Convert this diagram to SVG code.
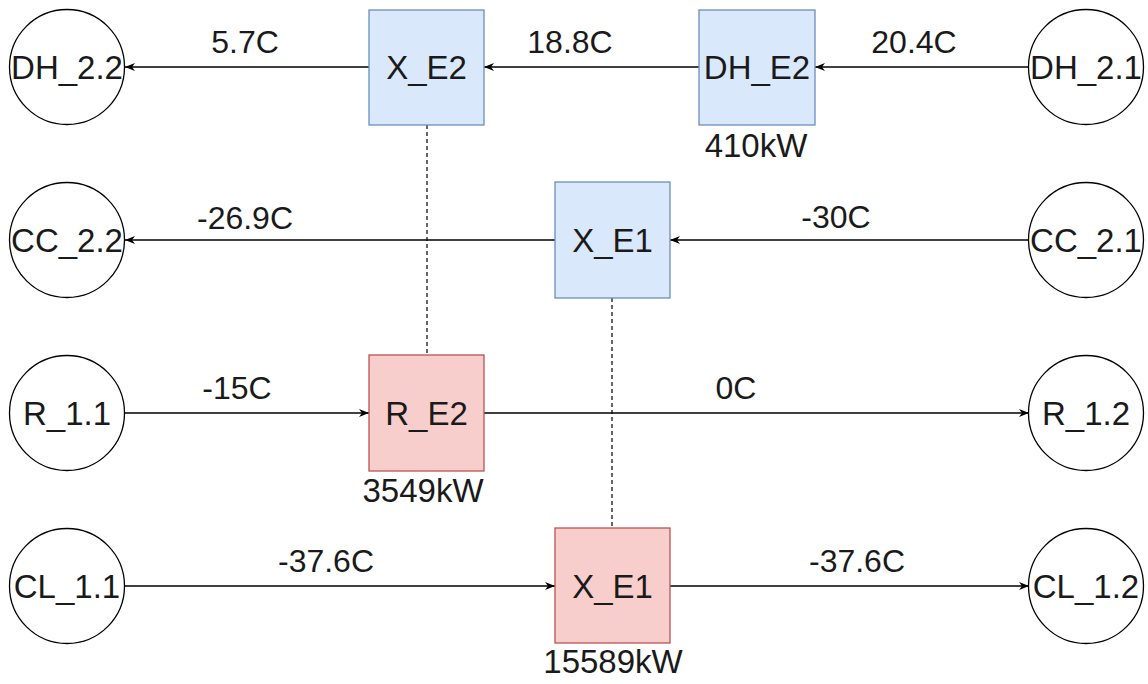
<svg xmlns="http://www.w3.org/2000/svg" width="1148" height="684" viewBox="0 0 1148 684">
<style>
text{font-family:"Liberation Sans",Arial,Helvetica,sans-serif;fill:#1a1a1a;text-anchor:middle}
.n{font-size:33px}
.e{font-size:32px}
.c{fill:#ffffff;stroke:#000000;stroke-width:1.3}
.b{fill:#dae8fc;stroke:#6c8ebf;stroke-width:1.3}
.r{fill:#f8cecc;stroke:#b85450;stroke-width:1.3}
.l{fill:none;stroke:#000000;stroke-width:1.5}
.d{fill:none;stroke:#000000;stroke-width:1.2;stroke-dasharray:4 3}
</style>
<defs>
<marker id="arr" viewBox="0 0 10 8" markerWidth="10" markerHeight="8" refX="10" refY="4" orient="auto" markerUnits="userSpaceOnUse">
<path d="M0,0 L10,4 L0,8 L3,4 z" fill="#000000"/>
</marker>
</defs>
<rect width="1148" height="684" fill="#ffffff"/>
<g id="connectors">
<line class="l" x1="1029" y1="67" x2="815" y2="67" marker-end="url(#arr)"/>
<line class="l" x1="699" y1="67" x2="484" y2="67" marker-end="url(#arr)"/>
<line class="l" x1="369" y1="67" x2="125" y2="67" marker-end="url(#arr)"/>
<line class="l" x1="1029" y1="240" x2="670" y2="240" marker-end="url(#arr)"/>
<line class="l" x1="555" y1="240" x2="125" y2="240" marker-end="url(#arr)"/>
<line class="l" x1="125" y1="413" x2="369" y2="413" marker-end="url(#arr)"/>
<line class="l" x1="484" y1="413" x2="1029" y2="413" marker-end="url(#arr)"/>
<line class="l" x1="125" y1="586" x2="555" y2="586" marker-end="url(#arr)"/>
<line class="l" x1="670" y1="586" x2="1029" y2="586" marker-end="url(#arr)"/>
<line class="d" x1="427" y1="125" x2="427" y2="355"/>
<line class="d" x1="612" y1="298" x2="612" y2="528"/>
<text class="e" x="914" y="53">20.4C</text>
<text class="e" x="570" y="53">18.8C</text>
<text class="e" x="245" y="53">5.7C</text>
<text class="e" x="836" y="228">-30C</text>
<text class="e" x="245" y="229">-26.9C</text>
<text class="e" x="237" y="399">-15C</text>
<text class="e" x="736" y="399">0C</text>
<text class="e" x="326" y="572">-37.6C</text>
<text class="e" x="857" y="572">-37.6C</text>
</g>
<g id="DH_2.2"><circle class="c" cx="67" cy="67" r="57.5"/><text class="n" x="67" y="79">DH_2.2</text></g>
<g id="X_E2"><rect class="b" x="369" y="10" width="115" height="115"/><text class="n" x="426.5" y="79">X_E2</text></g>
<g id="DH_E2"><rect class="b" x="699" y="10" width="116" height="115"/><text class="n" x="757" y="79">DH_E2</text><text class="n" x="756" y="157">410kW</text></g>
<g id="DH_2.1"><circle class="c" cx="1086" cy="67" r="57.5"/><text class="n" x="1086" y="79">DH_2.1</text></g>
<g id="CC_2.2"><circle class="c" cx="67" cy="240" r="57.5"/><text class="n" x="67" y="252">CC_2.2</text></g>
<g id="X_E1_blue"><rect class="b" x="555" y="182" width="115" height="116"/><text class="n" x="612.5" y="252">X_E1</text></g>
<g id="CC_2.1"><circle class="c" cx="1086" cy="240" r="57.5"/><text class="n" x="1086" y="252">CC_2.1</text></g>
<g id="R_1.1"><circle class="c" cx="67" cy="413" r="57.5"/><text class="n" x="67" y="425">R_1.1</text></g>
<g id="R_E2"><rect class="r" x="369" y="355" width="115" height="116"/><text class="n" x="426.5" y="425">R_E2</text><text class="n" x="423" y="502">3549kW</text></g>
<g id="R_1.2"><circle class="c" cx="1086" cy="413" r="57.5"/><text class="n" x="1086" y="425">R_1.2</text></g>
<g id="CL_1.1"><circle class="c" cx="67" cy="586" r="57.5"/><text class="n" x="67" y="598">CL_1.1</text></g>
<g id="X_E1_red"><rect class="r" x="555" y="528" width="115" height="115"/><text class="n" x="612.5" y="598">X_E1</text><text class="n" x="613" y="673">15589kW</text></g>
<g id="CL_1.2"><circle class="c" cx="1086" cy="586" r="57.5"/><text class="n" x="1086" y="598">CL_1.2</text></g>
</svg>
